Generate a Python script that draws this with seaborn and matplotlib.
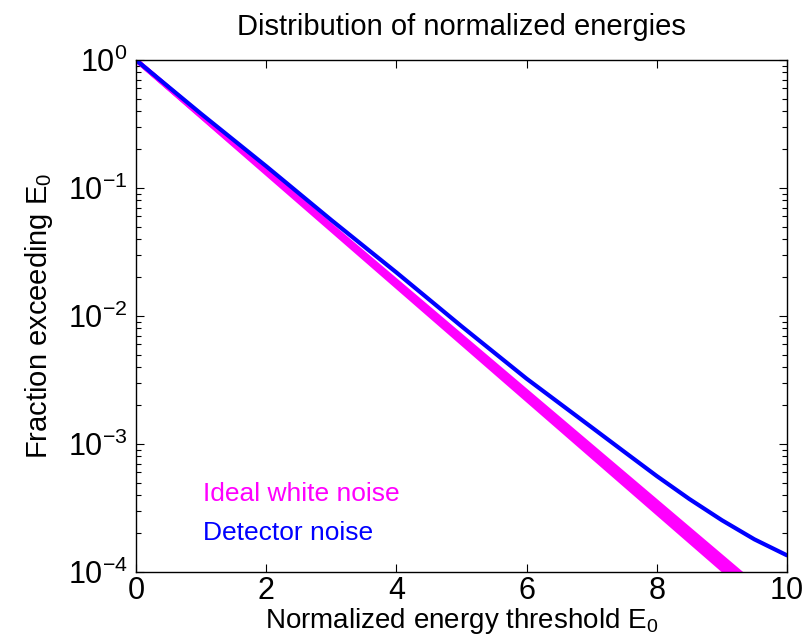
import numpy as np
import pandas as pd
import matplotlib
matplotlib.use("Agg")
import matplotlib.pyplot as plt
import seaborn as sns
from matplotlib.ticker import LogLocator, FixedLocator

# ---- data ----
x_grid = [0, 1, 2, 3, 4, 5, 6, 7, 8, 9, 10]
ideal_a = [1.0, 0.3612, 0.1305, 0.04717, 0.01704, 0.006160, 0.002225, 0.000804, 0.0002905, 0.0001050, 3.79e-5]
ideal_b = [1.0, 0.3643, 0.1329, 0.04846, 0.01767, 0.006442, 0.002349, 0.000856, 0.0003122, 0.0001138, 4.15e-5]
ideal_c = [1.0, 0.3679, 0.1353, 0.04979, 0.01832, 0.006738, 0.002479, 0.000912, 0.0003355, 0.0001234, 4.54e-5]
ideal_d = [1.0, 0.3704, 0.1372, 0.05083, 0.01883, 0.006974, 0.002584, 0.000957, 0.0003545, 0.0001313, 4.86e-5]

det_x = [0, 1, 2, 3, 4, 5, 6, 7, 7.5, 8, 8.5, 9, 9.5, 10]
det_y = [1.0, 0.380, 0.148, 0.0562, 0.0219, 0.00832, 0.00324, 0.00135, 0.00087, 0.000562,
         0.000372, 0.000254, 0.000180, 0.000135]

x_ticks = [0, 2, 4, 6, 8, 10]
y_ticks = [1e-4, 1e-3, 1e-2, 1e-1, 1e0]
y_tick_labels = [r"$10^{-4}$", r"$10^{-3}$", r"$10^{-2}$", r"$10^{-1}$", r"$10^{0}$"]
title_text = "Distribution of normalized energies"
xlabel_text = "Normalized energy threshold E$_{0}$"
ylabel_text = "Fraction exceeding E$_{0}$"
labels = ["Ideal white noise", "Detector noise"]

# ---- style ----
sns.set_style("ticks", rc={
    "text.color": "black", "axes.labelcolor": "black",
    "xtick.color": "black", "ytick.color": "black",
    "axes.edgecolor": "black",
})
plt.rcParams["font.family"] = ["Liberation Sans", "DejaVu Sans"]
plt.rcParams["mathtext.fontset"] = "custom"
plt.rcParams["mathtext.rm"] = "Liberation Sans"
plt.rcParams["mathtext.it"] = "Liberation Sans"
plt.rcParams["mathtext.default"] = "regular"

ideal_df = pd.DataFrame({
    "x": x_grid * 4,
    "y": ideal_a + ideal_b + ideal_c + ideal_d,
    "run": sum([[i] * len(x_grid) for i in range(4)], []),
})
det_df = pd.DataFrame({"x": det_x, "y": det_y})

fig = plt.figure(figsize=(8.07, 6.41), dpi=100)
ax = fig.add_axes([0.1685, 0.1076, 0.8067, 0.7988])

sns.lineplot(data=ideal_df, x="x", y="y", units="run", estimator=None,
             color="#ff00ff", lw=3.2, ax=ax, legend=False)
sns.lineplot(data=det_df, x="x", y="y", color="#0000ff", lw=3.0, ax=ax,
             legend=False)

ax.set_yscale("log")
ax.set_xlim(0, 10)
ax.set_ylim(1e-4, 1)
ax.xaxis.set_major_locator(FixedLocator(x_ticks))
ax.yaxis.set_major_locator(FixedLocator(y_ticks))
ax.yaxis.set_minor_locator(LogLocator(base=10, subs=np.arange(2, 10), numticks=20))

ax.tick_params(which="both", direction="in", top=True, right=True,
               labelsize=22, colors="black")
ax.tick_params(axis="x", pad=3)
ax.tick_params(axis="y", pad=6)
ax.tick_params(which="major", length=6, width=0.8)
ax.tick_params(which="minor", length=3.5, width=0.8)
ax.set_yticklabels(y_tick_labels)
for s in ax.spines.values():
    s.set_linewidth(1.0)
    s.set_color("black")

ax.set_title(title_text, fontsize=21, pad=18, color="black")
ax.set_xlabel(xlabel_text, fontsize=20, labelpad=0)
ax.set_ylabel(ylabel_text, fontsize=21, labelpad=9)

ax.text(0.103, 0.152, labels[0], color="#ff00ff", fontsize=19,
        transform=ax.transAxes, va="center", ha="left")
ax.text(0.103, 0.076, labels[1], color="#0000ff", fontsize=19,
        transform=ax.transAxes, va="center", ha="left")

fig.savefig("out.png", dpi=100)
